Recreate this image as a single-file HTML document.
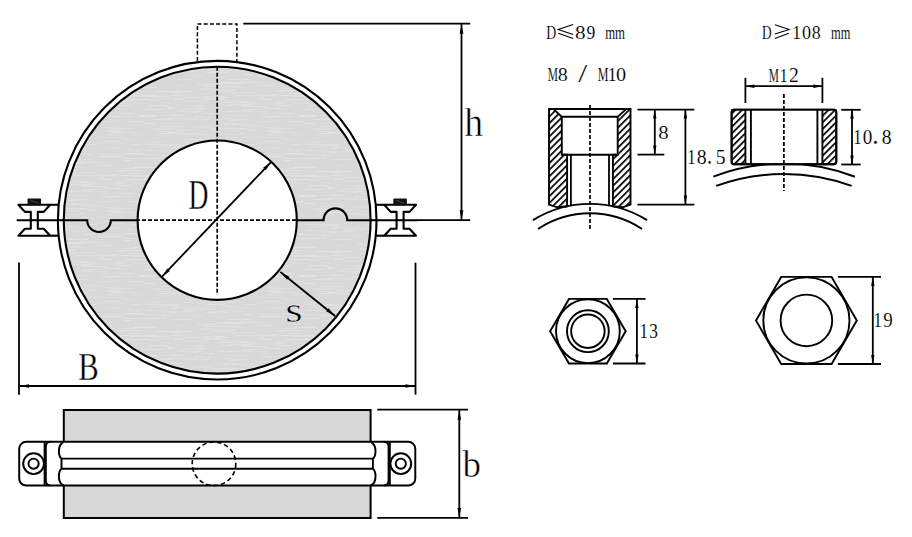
<!DOCTYPE html>
<html><head><meta charset="utf-8"><style>
html,body{margin:0;padding:0;background:#fff;width:912px;height:537px;overflow:hidden}
svg{display:block;font-family:"Liberation Serif",serif}
</style></head><body><svg width="912" height="537" viewBox="0 0 912 537"><defs><pattern id="brush" patternUnits="userSpaceOnUse" width="160" height="80"><rect width="160" height="80" fill="#d8d8d8"/><rect x="51.8" y="19.0" width="12.9" height="1" fill="#dedede"/><rect x="11.6" y="68.0" width="6.9" height="1" fill="#dedede"/><rect x="145.6" y="27.0" width="5.7" height="1" fill="#dcdcdc"/><rect x="66.9" y="30.0" width="6.8" height="1" fill="#dcdcdc"/><rect x="9.5" y="72.0" width="7.5" height="1" fill="#e0e0e0"/><rect x="100.9" y="74.0" width="24.0" height="1" fill="#dcdcdc"/><rect x="7.9" y="28.0" width="5.9" height="1" fill="#e0e0e0"/><rect x="46.3" y="18.0" width="15.8" height="1" fill="#e2e2e2"/><rect x="89.6" y="23.0" width="7.1" height="1" fill="#e0e0e0"/><rect x="59.6" y="70.0" width="19.2" height="1" fill="#dedede"/><rect x="99.0" y="63.0" width="18.6" height="1" fill="#dcdcdc"/><rect x="124.4" y="59.0" width="16.7" height="1" fill="#dcdcdc"/><rect x="57.9" y="31.0" width="20.9" height="1" fill="#e0e0e0"/><rect x="13.1" y="38.0" width="15.5" height="1" fill="#e2e2e2"/><rect x="116.7" y="36.0" width="17.2" height="1" fill="#dedede"/><rect x="18.9" y="53.0" width="8.3" height="1" fill="#e2e2e2"/><rect x="24.3" y="62.0" width="13.4" height="1" fill="#dedede"/><rect x="122.3" y="73.0" width="20.8" height="1" fill="#e2e2e2"/><rect x="54.4" y="44.0" width="16.9" height="1" fill="#dcdcdc"/><rect x="11.0" y="11.0" width="23.9" height="1" fill="#dcdcdc"/><rect x="111.5" y="8.0" width="6.2" height="1" fill="#e2e2e2"/><rect x="103.5" y="57.0" width="10.7" height="1" fill="#dcdcdc"/><rect x="141.9" y="44.0" width="5.5" height="1" fill="#dcdcdc"/><rect x="56.9" y="78.0" width="7.3" height="1" fill="#dedede"/><rect x="34.9" y="36.0" width="7.6" height="1" fill="#e0e0e0"/><rect x="63.7" y="63.0" width="6.6" height="1" fill="#dcdcdc"/><rect x="64.3" y="35.0" width="22.7" height="1" fill="#dcdcdc"/><rect x="138.2" y="35.0" width="19.1" height="1" fill="#e2e2e2"/><rect x="109.2" y="48.0" width="24.2" height="1" fill="#e0e0e0"/><rect x="13.3" y="19.0" width="9.6" height="1" fill="#e0e0e0"/><rect x="1.9" y="75.0" width="8.6" height="1" fill="#e2e2e2"/><rect x="0.7" y="53.0" width="15.7" height="1" fill="#e2e2e2"/><rect x="152.5" y="65.0" width="24.0" height="1" fill="#dedede"/><rect x="-7.5" y="65.0" width="24.0" height="1" fill="#dedede"/><rect x="73.1" y="71.0" width="12.8" height="1" fill="#dcdcdc"/><rect x="63.1" y="61.0" width="17.7" height="1" fill="#dedede"/><rect x="30.5" y="26.0" width="13.8" height="1" fill="#dedede"/><rect x="54.4" y="6.0" width="7.0" height="1" fill="#e0e0e0"/><rect x="85.9" y="46.0" width="17.3" height="1" fill="#dedede"/><rect x="139.9" y="78.0" width="12.5" height="1" fill="#e2e2e2"/><rect x="152.9" y="77.0" width="12.3" height="1" fill="#dedede"/><rect x="-7.1" y="77.0" width="12.3" height="1" fill="#dedede"/><rect x="18.5" y="62.0" width="24.9" height="1" fill="#dcdcdc"/><rect x="76.9" y="39.0" width="6.7" height="1" fill="#dedede"/><rect x="119.9" y="33.0" width="14.6" height="1" fill="#e0e0e0"/><rect x="82.6" y="26.0" width="24.0" height="1" fill="#e2e2e2"/><rect x="23.5" y="69.0" width="23.3" height="1" fill="#e2e2e2"/><rect x="156.6" y="11.0" width="18.9" height="1" fill="#e2e2e2"/><rect x="-3.4" y="11.0" width="18.9" height="1" fill="#e2e2e2"/><rect x="82.9" y="21.0" width="12.1" height="1" fill="#e0e0e0"/><rect x="85.2" y="64.0" width="11.6" height="1" fill="#e0e0e0"/><rect x="98.1" y="24.0" width="21.1" height="1" fill="#dcdcdc"/><rect x="118.4" y="29.0" width="9.0" height="1" fill="#dcdcdc"/><rect x="56.9" y="3.0" width="24.8" height="1" fill="#e2e2e2"/><rect x="75.6" y="24.0" width="18.9" height="1" fill="#e2e2e2"/><rect x="71.6" y="44.0" width="24.1" height="1" fill="#e2e2e2"/><rect x="12.9" y="13.0" width="9.5" height="1" fill="#e0e0e0"/><rect x="54.0" y="61.0" width="17.5" height="1" fill="#dedede"/><rect x="76.7" y="44.0" width="21.0" height="1" fill="#dedede"/><rect x="133.5" y="15.0" width="23.2" height="1" fill="#e0e0e0"/><rect x="76.5" y="22.0" width="13.7" height="1" fill="#e2e2e2"/><rect x="13.9" y="50.0" width="14.3" height="1" fill="#dedede"/><rect x="116.0" y="21.0" width="24.9" height="1" fill="#dedede"/><rect x="24.2" y="59.0" width="21.1" height="1" fill="#e0e0e0"/><rect x="97.9" y="76.0" width="24.6" height="1" fill="#e2e2e2"/><rect x="24.9" y="70.0" width="7.6" height="1" fill="#dedede"/><rect x="127.9" y="13.0" width="15.5" height="1" fill="#e0e0e0"/><rect x="69.4" y="24.0" width="21.5" height="1" fill="#e0e0e0"/><rect x="4.5" y="27.0" width="10.9" height="1" fill="#e0e0e0"/><rect x="122.2" y="41.0" width="10.2" height="1" fill="#dcdcdc"/><rect x="133.5" y="7.0" width="23.2" height="1" fill="#e2e2e2"/><rect x="143.6" y="74.0" width="21.3" height="1" fill="#dcdcdc"/><rect x="-16.4" y="74.0" width="21.3" height="1" fill="#dcdcdc"/><rect x="132.3" y="64.0" width="7.6" height="1" fill="#e0e0e0"/><rect x="83.8" y="2.0" width="22.5" height="1" fill="#e0e0e0"/><rect x="97.4" y="19.0" width="8.4" height="1" fill="#dcdcdc"/><rect x="99.1" y="15.0" width="16.1" height="1" fill="#e2e2e2"/><rect x="109.2" y="67.0" width="16.1" height="1" fill="#dedede"/><rect x="141.3" y="7.0" width="10.0" height="1" fill="#e2e2e2"/><rect x="6.8" y="12.0" width="15.2" height="1" fill="#dedede"/><rect x="121.6" y="8.0" width="13.9" height="1" fill="#e0e0e0"/><rect x="110.8" y="57.0" width="15.2" height="1" fill="#dcdcdc"/><rect x="81.2" y="31.0" width="19.0" height="1" fill="#e2e2e2"/><rect x="147.6" y="25.0" width="21.8" height="1" fill="#e0e0e0"/><rect x="-12.4" y="25.0" width="21.8" height="1" fill="#e0e0e0"/><rect x="66.7" y="50.0" width="13.8" height="1" fill="#dedede"/><rect x="107.4" y="54.0" width="6.5" height="1" fill="#e2e2e2"/><rect x="125.4" y="19.0" width="23.8" height="1" fill="#e2e2e2"/><rect x="22.9" y="17.0" width="24.4" height="1" fill="#e0e0e0"/><rect x="119.5" y="12.0" width="13.0" height="1" fill="#dcdcdc"/><rect x="26.0" y="28.0" width="8.2" height="1" fill="#dcdcdc"/><rect x="159.1" y="51.0" width="11.8" height="1" fill="#e0e0e0"/><rect x="-0.9" y="51.0" width="11.8" height="1" fill="#e0e0e0"/><rect x="57.1" y="11.0" width="19.4" height="1" fill="#dedede"/><rect x="54.1" y="58.0" width="13.8" height="1" fill="#dedede"/><rect x="61.5" y="66.0" width="17.5" height="1" fill="#dedede"/><rect x="18.1" y="29.0" width="24.4" height="1" fill="#dedede"/><rect x="13.4" y="34.0" width="5.8" height="1" fill="#e0e0e0"/><rect x="43.3" y="16.0" width="21.4" height="1" fill="#e2e2e2"/><rect x="65.0" y="68.0" width="23.4" height="1" fill="#dcdcdc"/><rect x="112.1" y="11.0" width="10.6" height="1" fill="#e0e0e0"/><rect x="68.1" y="9.0" width="10.4" height="1" fill="#dedede"/><rect x="101.5" y="33.0" width="6.7" height="1" fill="#e0e0e0"/><rect x="10.7" y="15.0" width="14.1" height="1" fill="#e2e2e2"/><rect x="159.1" y="53.0" width="23.5" height="1" fill="#e2e2e2"/><rect x="-0.9" y="53.0" width="23.5" height="1" fill="#e2e2e2"/><rect x="99.5" y="5.0" width="15.5" height="1" fill="#e0e0e0"/><rect x="150.1" y="20.0" width="10.2" height="1" fill="#e0e0e0"/><rect x="-9.9" y="20.0" width="10.2" height="1" fill="#e0e0e0"/><rect x="32.3" y="39.0" width="17.6" height="1" fill="#e0e0e0"/><rect x="46.4" y="64.0" width="18.4" height="1" fill="#e2e2e2"/><rect x="55.5" y="2.0" width="24.9" height="1" fill="#dedede"/><rect x="2.5" y="64.0" width="16.0" height="1" fill="#e0e0e0"/><rect x="82.3" y="31.0" width="23.7" height="1" fill="#dedede"/><rect x="105.3" y="55.0" width="18.1" height="1" fill="#dcdcdc"/><rect x="155.2" y="39.0" width="18.8" height="1" fill="#e0e0e0"/><rect x="-4.8" y="39.0" width="18.8" height="1" fill="#e0e0e0"/><rect x="54.8" y="17.0" width="13.1" height="1" fill="#e2e2e2"/><rect x="157.1" y="16.0" width="5.3" height="1" fill="#e2e2e2"/><rect x="-2.9" y="16.0" width="5.3" height="1" fill="#e2e2e2"/><rect x="68.9" y="7.0" width="6.7" height="1" fill="#dcdcdc"/><rect x="139.3" y="36.0" width="17.0" height="1" fill="#e2e2e2"/><rect x="7.2" y="23.0" width="8.2" height="1" fill="#dcdcdc"/><rect x="0.6" y="46.0" width="24.2" height="1" fill="#e2e2e2"/><rect x="39.1" y="39.0" width="9.4" height="1" fill="#e0e0e0"/><rect x="0.2" y="48.0" width="6.7" height="1" fill="#e2e2e2"/><rect x="80.4" y="25.0" width="10.0" height="1" fill="#dedede"/><rect x="14.5" y="11.0" width="7.9" height="1" fill="#dedede"/><rect x="63.0" y="38.0" width="11.1" height="1" fill="#e0e0e0"/><rect x="13.5" y="67.0" width="22.1" height="1" fill="#e0e0e0"/><rect x="105.2" y="76.0" width="12.8" height="1" fill="#e2e2e2"/><rect x="115.3" y="63.0" width="8.0" height="1" fill="#e0e0e0"/><rect x="7.0" y="65.0" width="17.5" height="1" fill="#e0e0e0"/><rect x="145.6" y="64.0" width="16.4" height="1" fill="#dedede"/><rect x="-14.4" y="64.0" width="16.4" height="1" fill="#dedede"/><rect x="132.2" y="74.0" width="21.0" height="1" fill="#e0e0e0"/><rect x="13.6" y="5.0" width="7.7" height="1" fill="#e2e2e2"/><rect x="153.5" y="48.0" width="21.7" height="1" fill="#dedede"/><rect x="-6.5" y="48.0" width="21.7" height="1" fill="#dedede"/><rect x="100.4" y="68.0" width="18.6" height="1" fill="#dcdcdc"/><rect x="42.2" y="58.0" width="21.0" height="1" fill="#dedede"/><rect x="105.5" y="8.0" width="19.9" height="1" fill="#dcdcdc"/><rect x="40.4" y="9.0" width="21.9" height="1" fill="#e0e0e0"/><rect x="116.7" y="26.0" width="9.6" height="1" fill="#dcdcdc"/><rect x="79.0" y="48.0" width="6.5" height="1" fill="#e2e2e2"/><rect x="122.7" y="78.0" width="17.7" height="1" fill="#e0e0e0"/><rect x="12.4" y="18.0" width="11.6" height="1" fill="#e2e2e2"/><rect x="99.4" y="17.0" width="5.2" height="1" fill="#dedede"/><rect x="77.7" y="12.0" width="18.8" height="1" fill="#dcdcdc"/><rect x="46.5" y="66.0" width="10.7" height="1" fill="#dcdcdc"/><rect x="74.6" y="15.0" width="24.9" height="1" fill="#e0e0e0"/><rect x="49.9" y="10.0" width="23.7" height="1" fill="#dedede"/><rect x="46.3" y="9.0" width="21.4" height="1" fill="#dcdcdc"/><rect x="159.0" y="49.0" width="9.2" height="1" fill="#e0e0e0"/><rect x="-1.0" y="49.0" width="9.2" height="1" fill="#e0e0e0"/><rect x="11.9" y="11.0" width="7.8" height="1" fill="#e2e2e2"/><rect x="152.4" y="16.0" width="17.1" height="1" fill="#e2e2e2"/><rect x="-7.6" y="16.0" width="17.1" height="1" fill="#e2e2e2"/><rect x="141.9" y="46.0" width="9.6" height="1" fill="#dcdcdc"/><rect x="63.1" y="20.0" width="5.1" height="1" fill="#dcdcdc"/><rect x="109.1" y="51.0" width="11.0" height="1" fill="#e0e0e0"/><rect x="66.6" y="48.0" width="11.3" height="1" fill="#e2e2e2"/><rect x="0.3" y="43.0" width="21.8" height="1" fill="#dedede"/><rect x="150.4" y="25.0" width="19.3" height="1" fill="#e2e2e2"/><rect x="-9.6" y="25.0" width="19.3" height="1" fill="#e2e2e2"/><rect x="40.5" y="8.0" width="12.9" height="1" fill="#dedede"/><rect x="57.7" y="54.0" width="20.1" height="1" fill="#dedede"/><rect x="44.9" y="6.0" width="21.7" height="1" fill="#e2e2e2"/><rect x="101.6" y="19.0" width="10.0" height="1" fill="#e2e2e2"/><rect x="69.8" y="40.0" width="8.8" height="1" fill="#e2e2e2"/><rect x="125.6" y="54.0" width="22.7" height="1" fill="#dcdcdc"/><rect x="146.1" y="70.0" width="16.0" height="1" fill="#dedede"/><rect x="-13.9" y="70.0" width="16.0" height="1" fill="#dedede"/><rect x="7.9" y="52.0" width="14.0" height="1" fill="#e0e0e0"/><rect x="103.1" y="36.0" width="14.7" height="1" fill="#e0e0e0"/><rect x="27.3" y="53.0" width="11.9" height="1" fill="#e2e2e2"/><rect x="40.9" y="33.0" width="13.1" height="1" fill="#e0e0e0"/><rect x="48.1" y="71.0" width="18.4" height="1" fill="#dedede"/><rect x="26.8" y="20.0" width="6.5" height="1" fill="#dcdcdc"/><rect x="88.1" y="57.0" width="23.1" height="1" fill="#dcdcdc"/><rect x="68.4" y="70.0" width="8.8" height="1" fill="#dedede"/><rect x="28.0" y="71.0" width="6.8" height="1" fill="#e0e0e0"/><rect x="58.9" y="72.0" width="9.0" height="1" fill="#dedede"/><rect x="119.9" y="52.0" width="12.7" height="1" fill="#e0e0e0"/><rect x="60.3" y="43.0" width="20.0" height="1" fill="#dcdcdc"/><rect x="44.4" y="46.0" width="7.5" height="1" fill="#e0e0e0"/><rect x="14.8" y="31.0" width="12.7" height="1" fill="#dcdcdc"/><rect x="69.1" y="39.0" width="22.0" height="1" fill="#dedede"/><rect x="20.4" y="54.0" width="19.2" height="1" fill="#dcdcdc"/><rect x="154.9" y="62.0" width="5.0" height="1" fill="#dcdcdc"/><rect x="148.8" y="67.0" width="22.1" height="1" fill="#dcdcdc"/><rect x="-11.2" y="67.0" width="22.1" height="1" fill="#dcdcdc"/><rect x="39.8" y="13.0" width="9.5" height="1" fill="#e0e0e0"/><rect x="83.6" y="13.0" width="23.8" height="1" fill="#dcdcdc"/><rect x="13.6" y="5.0" width="5.0" height="1" fill="#e0e0e0"/><rect x="37.2" y="4.0" width="17.9" height="1" fill="#e2e2e2"/><rect x="154.0" y="32.0" width="15.6" height="1" fill="#dcdcdc"/><rect x="-6.0" y="32.0" width="15.6" height="1" fill="#dcdcdc"/><rect x="111.8" y="14.0" width="7.0" height="1" fill="#e2e2e2"/><rect x="83.9" y="74.0" width="8.8" height="1" fill="#e2e2e2"/><rect x="35.8" y="76.0" width="5.0" height="1" fill="#e2e2e2"/><rect x="159.4" y="35.0" width="24.2" height="1" fill="#e0e0e0"/><rect x="-0.6" y="35.0" width="24.2" height="1" fill="#e0e0e0"/><rect x="76.0" y="30.0" width="15.9" height="1" fill="#dedede"/><rect x="153.7" y="39.0" width="6.1" height="1" fill="#e0e0e0"/><rect x="79.7" y="53.0" width="6.6" height="1" fill="#e0e0e0"/><rect x="106.8" y="47.0" width="9.5" height="1" fill="#dedede"/><rect x="111.3" y="53.0" width="12.2" height="1" fill="#dcdcdc"/><rect x="31.7" y="37.0" width="19.8" height="1" fill="#dedede"/><rect x="32.8" y="25.0" width="11.2" height="1" fill="#e0e0e0"/><rect x="36.9" y="28.0" width="10.3" height="1" fill="#e2e2e2"/><rect x="17.4" y="79.0" width="14.9" height="1" fill="#e0e0e0"/><rect x="143.4" y="62.0" width="13.3" height="1" fill="#dedede"/><rect x="151.8" y="18.0" width="23.4" height="1" fill="#dedede"/><rect x="-8.2" y="18.0" width="23.4" height="1" fill="#dedede"/><rect x="34.1" y="76.0" width="7.8" height="1" fill="#dedede"/><rect x="113.6" y="23.0" width="12.9" height="1" fill="#e2e2e2"/><rect x="117.2" y="10.0" width="23.6" height="1" fill="#e2e2e2"/><rect x="30.5" y="67.0" width="19.9" height="1" fill="#dedede"/><rect x="49.9" y="48.0" width="21.8" height="1" fill="#e2e2e2"/><rect x="70.8" y="13.0" width="5.1" height="1" fill="#e2e2e2"/><rect x="12.9" y="53.0" width="24.1" height="1" fill="#dedede"/><rect x="89.8" y="26.0" width="12.6" height="1" fill="#e2e2e2"/><rect x="131.5" y="55.0" width="6.8" height="1" fill="#dcdcdc"/><rect x="31.3" y="69.0" width="23.4" height="1" fill="#e0e0e0"/><rect x="51.7" y="60.0" width="5.6" height="1" fill="#dcdcdc"/><rect x="39.7" y="51.0" width="5.8" height="1" fill="#dedede"/><rect x="74.2" y="7.0" width="10.1" height="1" fill="#dedede"/><rect x="143.8" y="43.0" width="12.3" height="1" fill="#e2e2e2"/><rect x="153.2" y="78.0" width="5.9" height="1" fill="#e2e2e2"/><rect x="147.9" y="38.0" width="5.1" height="1" fill="#dedede"/><rect x="3.9" y="29.0" width="7.1" height="1" fill="#dcdcdc"/><rect x="152.6" y="49.0" width="20.8" height="1" fill="#dcdcdc"/><rect x="-7.4" y="49.0" width="20.8" height="1" fill="#dcdcdc"/><rect x="130.4" y="16.0" width="23.6" height="1" fill="#e0e0e0"/><rect x="1.4" y="38.0" width="21.5" height="1" fill="#e0e0e0"/><rect x="97.2" y="41.0" width="22.2" height="1" fill="#dcdcdc"/><rect x="57.9" y="76.0" width="6.6" height="1" fill="#e0e0e0"/><rect x="62.7" y="20.0" width="9.9" height="1" fill="#dedede"/><rect x="103.9" y="61.0" width="16.1" height="1" fill="#e2e2e2"/><rect x="25.7" y="54.0" width="22.7" height="1" fill="#dedede"/><rect x="42.4" y="10.0" width="9.2" height="1" fill="#dcdcdc"/><rect x="79.8" y="57.0" width="8.5" height="1" fill="#e0e0e0"/><rect x="66.7" y="79.0" width="22.8" height="1" fill="#e0e0e0"/><rect x="119.7" y="15.0" width="20.6" height="1" fill="#e2e2e2"/><rect x="47.0" y="72.0" width="10.4" height="1" fill="#e2e2e2"/><rect x="118.1" y="25.0" width="13.8" height="1" fill="#e0e0e0"/><rect x="39.3" y="19.0" width="10.6" height="1" fill="#e0e0e0"/><rect x="52.2" y="50.0" width="10.0" height="1" fill="#e0e0e0"/><rect x="81.2" y="29.0" width="18.0" height="1" fill="#dedede"/><rect x="104.5" y="4.0" width="7.0" height="1" fill="#dcdcdc"/><rect x="141.3" y="29.0" width="21.8" height="1" fill="#e2e2e2"/><rect x="-18.7" y="29.0" width="21.8" height="1" fill="#e2e2e2"/><rect x="6.5" y="37.0" width="9.7" height="1" fill="#dedede"/><rect x="30.3" y="74.0" width="8.9" height="1" fill="#dedede"/><rect x="59.6" y="22.0" width="14.0" height="1" fill="#e2e2e2"/><rect x="124.0" y="0.0" width="7.1" height="1" fill="#e2e2e2"/><rect x="34.8" y="47.0" width="11.8" height="1" fill="#dedede"/><rect x="32.6" y="32.0" width="5.8" height="1" fill="#e0e0e0"/><rect x="130.4" y="41.0" width="13.2" height="1" fill="#e2e2e2"/><rect x="29.6" y="39.0" width="6.6" height="1" fill="#dedede"/><rect x="127.2" y="70.0" width="14.7" height="1" fill="#dcdcdc"/><rect x="16.2" y="50.0" width="18.3" height="1" fill="#e0e0e0"/><rect x="102.3" y="11.0" width="18.1" height="1" fill="#dcdcdc"/><rect x="111.3" y="52.0" width="24.8" height="1" fill="#e2e2e2"/><rect x="66.9" y="6.0" width="11.2" height="1" fill="#e2e2e2"/><rect x="66.3" y="2.0" width="22.3" height="1" fill="#e2e2e2"/><rect x="103.1" y="50.0" width="19.6" height="1" fill="#e0e0e0"/><rect x="150.7" y="55.0" width="23.0" height="1" fill="#dcdcdc"/><rect x="-9.3" y="55.0" width="23.0" height="1" fill="#dcdcdc"/><rect x="18.2" y="11.0" width="13.1" height="1" fill="#e2e2e2"/><rect x="73.7" y="20.0" width="7.6" height="1" fill="#dedede"/><rect x="88.2" y="50.0" width="6.8" height="1" fill="#e2e2e2"/><rect x="118.0" y="21.0" width="7.9" height="1" fill="#e2e2e2"/><rect x="25.9" y="21.0" width="23.5" height="1" fill="#dedede"/><rect x="61.4" y="25.0" width="11.0" height="1" fill="#dedede"/><rect x="156.1" y="61.0" width="11.3" height="1" fill="#dcdcdc"/><rect x="-3.9" y="61.0" width="11.3" height="1" fill="#dcdcdc"/><rect x="13.8" y="79.0" width="18.8" height="1" fill="#e0e0e0"/><rect x="102.5" y="28.0" width="17.4" height="1" fill="#e0e0e0"/><rect x="132.7" y="23.0" width="16.3" height="1" fill="#dedede"/><rect x="64.0" y="66.0" width="8.1" height="1" fill="#e2e2e2"/><rect x="19.7" y="31.0" width="24.4" height="1" fill="#e0e0e0"/><rect x="6.6" y="71.0" width="21.8" height="1" fill="#dedede"/></pattern></defs><path d="M197.4 61V23.9H236.9V61" fill="none" stroke="#000" stroke-width="1.5" stroke-dasharray="4 2.2"/><line x1="243.3" y1="23.7" x2="470.2" y2="23.7" stroke="#000" stroke-width="1.8" /><line x1="19" y1="262.6" x2="19" y2="394.7" stroke="#000" stroke-width="1.8" /><line x1="415.5" y1="262.6" x2="415.5" y2="394.7" stroke="#000" stroke-width="1.8" /><line x1="19" y1="386" x2="415.5" y2="386" stroke="#000" stroke-width="1.8"/><path d="M415.5 386L405.5 387.8L405.5 384.2Z" fill="#000"/><path d="M19 386L29 384.2L29 387.8Z" fill="#000"/><line x1="461.5" y1="23.7" x2="461.5" y2="220.2" stroke="#000" stroke-width="1.8"/><path d="M461.5 220.2L459.7 210.2L463.3 210.2Z" fill="#000"/><path d="M461.5 23.7L463.3 33.7L459.7 33.7Z" fill="#000"/><line x1="16.7" y1="220.2" x2="64" y2="220.2" stroke="#000" stroke-width="2.1" /><line x1="370" y1="220.2" x2="417.7" y2="220.2" stroke="#000" stroke-width="2.1" /><line x1="417" y1="220.2" x2="470.2" y2="220.2" stroke="#000" stroke-width="1.8" /><line x1="50.2" y1="204.8" x2="62" y2="204.8" stroke="#000" stroke-width="2.1" /><line x1="50.2" y1="235.7" x2="62" y2="235.7" stroke="#000" stroke-width="2.1" /><line x1="384.2" y1="204.8" x2="372" y2="204.8" stroke="#000" stroke-width="2.1" /><line x1="384.2" y1="235.7" x2="372" y2="235.7" stroke="#000" stroke-width="2.1" /><path d="M18.4 204.8L50.2 204.8L43.7 211.9L37.8 211.9L37.8 228.7L43.7 228.7L50.2 235.7L18.4 235.7L24.9 228.7L30.8 228.7L30.8 211.9L24.9 211.9Z" fill="#fff" stroke="#000" stroke-width="2.1" stroke-linejoin="round"/><rect x="27.5" y="198.4" width="13.6" height="6.8" rx="1" fill="#111"/><line x1="30.3" y1="200.3" x2="38.3" y2="203.2" stroke="#666" stroke-width="0.6"/><line x1="30.7" y1="220.2" x2="37.9" y2="220.2" stroke="#000" stroke-width="2.1" /><path d="M384.2 204.8L416 204.8L409.5 211.9L403.6 211.9L403.6 228.7L409.5 228.7L416 235.7L384.2 235.7L390.7 228.7L396.6 228.7L396.6 211.9L390.7 211.9Z" fill="#fff" stroke="#000" stroke-width="2.1" stroke-linejoin="round"/><rect x="393.3" y="198.4" width="13.6" height="6.8" rx="1" fill="#111"/><line x1="396.1" y1="200.3" x2="404.1" y2="203.2" stroke="#666" stroke-width="0.6"/><line x1="396.5" y1="220.2" x2="403.7" y2="220.2" stroke="#000" stroke-width="2.1" /><circle cx="217.2" cy="220.2" r="159.3" fill="#fff" stroke="#000" stroke-width="2.1"/><path d="M63.8 220.2A153.4 153.4 0 1 0 370.6 220.2A153.4 153.4 0 1 0 63.8 220.2ZM137.6 220.2A79.6 79.6 0 1 0 296.8 220.2A79.6 79.6 0 1 0 137.6 220.2Z" fill="url(#brush)" fill-rule="evenodd" stroke="#000" stroke-width="2.1"/><line x1="57.9" y1="220.2" x2="63.8" y2="220.2" stroke="#000" stroke-width="2.1" /><line x1="370.6" y1="220.2" x2="376.5" y2="220.2" stroke="#000" stroke-width="2.1" /><path d="M63.8 220.2L87.2 220.2A11.8 11.8 0 0 0 110.8 220.2L137.6 220.2" fill="none" stroke="#000" stroke-width="2.1"/><path d="M296.8 220.2L323.6 220.2A11.8 11.8 0 0 1 347.2 220.2L370.6 220.2" fill="none" stroke="#000" stroke-width="2.1"/><line x1="136" y1="220.2" x2="296.8" y2="220.2" stroke="#000" stroke-width="1.7" stroke-dasharray="4 2"/><line x1="217.2" y1="66.8" x2="217.2" y2="295" stroke="#000" stroke-width="1.7" stroke-dasharray="4 2"/><line x1="271.3" y1="161.8" x2="161.7" y2="276.9" stroke="#000" stroke-width="1.8"/><path d="M161.7 276.9L167.29 268.42L169.9 270.9Z" fill="#000"/><path d="M271.3 161.8L265.71 170.28L263.1 167.8Z" fill="#000"/><line x1="280.4" y1="272" x2="335.1" y2="316" stroke="#000" stroke-width="1.8"/><path d="M335.1 316L326.18 311.13L328.44 308.33Z" fill="#000"/><path d="M280.4 272L289.32 276.87L287.06 279.67Z" fill="#000"/><rect x="63.8" y="410" width="306.8" height="108" fill="#d8d8d8" stroke="#000" stroke-width="2.0"/><line x1="377.3" y1="409.7" x2="468" y2="409.7" stroke="#000" stroke-width="1.8" /><line x1="377.3" y1="517.9" x2="468" y2="517.9" stroke="#000" stroke-width="1.8" /><line x1="459.3" y1="409.7" x2="459.3" y2="517.9" stroke="#000" stroke-width="1.8"/><path d="M459.3 517.9L457.5 507.9L461.1 507.9Z" fill="#000"/><path d="M459.3 409.7L461.1 419.7L457.5 419.7Z" fill="#000"/><path d="M26.2 441.8H408.3A7 7 0 0 1 415.3 448.8V478.5A7 7 0 0 1 408.3 485.5H26.2A7 7 0 0 1 19.2 478.5V448.8A7 7 0 0 1 26.2 441.8Z" fill="#fff" stroke="#000" stroke-width="1.95"/><line x1="44.6" y1="441.8" x2="44.6" y2="485.5" stroke="#000" stroke-width="1.95" /><path d="M50.5 441.8Q45.8 441.8 45.8 447V480.3Q45.8 485.5 50.5 485.5" fill="none" stroke="#000" stroke-width="1.95"/><path d="M63.5 441.8C60.3 443.6 58.9 447.5 58.9 451C58.9 454.5 60 457.6 61.5 458.6V468.8C60 469.8 58.9 473 58.9 476.5C58.9 480 60.3 483.8 63.5 485.5" fill="none" stroke="#000" stroke-width="1.95"/><circle cx="33.6" cy="463.7" r="10.4" fill="none" stroke="#000" stroke-width="1.95"/><circle cx="33.6" cy="463.7" r="5.1" fill="none" stroke="#000" stroke-width="1.95"/><line x1="389.8" y1="441.8" x2="389.8" y2="485.5" stroke="#000" stroke-width="1.95" /><path d="M383.9 441.8Q388.6 441.8 388.6 447V480.3Q388.6 485.5 383.9 485.5" fill="none" stroke="#000" stroke-width="1.95"/><path d="M370.9 441.8C374.1 443.6 375.5 447.5 375.5 451C375.5 454.5 374.4 457.6 372.9 458.6V468.8C374.4 469.8 375.5 473 375.5 476.5C375.5 480 374.1 483.8 370.9 485.5" fill="none" stroke="#000" stroke-width="1.95"/><circle cx="400.8" cy="463.7" r="10.4" fill="none" stroke="#000" stroke-width="1.95"/><circle cx="400.8" cy="463.7" r="5.1" fill="none" stroke="#000" stroke-width="1.95"/><line x1="61.6" y1="458.6" x2="372.8" y2="458.6" stroke="#000" stroke-width="1.95" /><line x1="61.6" y1="468.8" x2="372.8" y2="468.8" stroke="#000" stroke-width="1.95" /><circle cx="214" cy="463.8" r="21.8" fill="none" stroke="#000" stroke-width="1.6" stroke-dasharray="4.5 3"/><defs><pattern id="hat" patternUnits="userSpaceOnUse" width="4.7" height="4.7" patternTransform="rotate(45)"><rect x="0" y="0" width="1.7" height="4.7" fill="#000"/></pattern></defs><path d="M533 220.17A108 108 0 0 1 647 220.17" fill="none" stroke="#000" stroke-width="1.9"/><path d="M538 228.99A94 94 0 0 1 642 228.99" fill="none" stroke="#000" stroke-width="1.9"/><path d="M549 109H553.4L561.8 116.8V154.7H567.1V206.3L557.4 207.3L549 204.6Z" fill="url(#hat)" stroke="#000" stroke-width="1.9"/><path d="M630.5 109H626.2L617.7 116.8V154.7H612.9V206.3L622.6 207.3L630.5 204.6Z" fill="url(#hat)" stroke="#000" stroke-width="1.9"/><line x1="549" y1="109" x2="630.5" y2="109" stroke="#000" stroke-width="2.1" /><line x1="561.8" y1="116.8" x2="617.7" y2="116.8" stroke="#000" stroke-width="1.9" /><line x1="561.8" y1="154.7" x2="617.7" y2="154.7" stroke="#000" stroke-width="1.9" /><line x1="570.9" y1="154.7" x2="570.9" y2="206" stroke="#000" stroke-width="1.8" /><line x1="609" y1="154.7" x2="609" y2="206" stroke="#000" stroke-width="1.8" /><line x1="590" y1="105" x2="590" y2="230" stroke="#000" stroke-width="1.7" stroke-dasharray="4 2"/><line x1="637.5" y1="109.6" x2="694.3" y2="109.6" stroke="#000" stroke-width="1.8" /><line x1="637.5" y1="154.6" x2="664.3" y2="154.6" stroke="#000" stroke-width="1.8" /><line x1="637.5" y1="204.6" x2="694.3" y2="204.6" stroke="#000" stroke-width="1.8" /><line x1="654.8" y1="109.6" x2="654.8" y2="154.6" stroke="#000" stroke-width="1.8"/><path d="M654.8 154.6L653.1 145.6L656.5 145.6Z" fill="#000"/><path d="M654.8 109.6L656.5 118.6L653.1 118.6Z" fill="#000"/><line x1="685.4" y1="109.6" x2="685.4" y2="204.6" stroke="#000" stroke-width="1.8"/><path d="M685.4 204.6L683.7 195.6L687.1 195.6Z" fill="#000"/><path d="M685.4 109.6L687.1 118.6L683.7 118.6Z" fill="#000"/><path d="M713.4 176.55A197 197 0 0 1 854.9 176.74" fill="none" stroke="#000" stroke-width="1.9"/><path d="M716.2 185.9A198.5 198.5 0 0 1 851.6 185.9" fill="none" stroke="#000" stroke-width="1.9"/><rect x="731.6" y="109.6" width="104.7" height="54.7" rx="2.5" fill="#fff" stroke="#000" stroke-width="1.9"/><rect x="731.6" y="109.6" width="13.8" height="54.7" fill="url(#hat)" stroke="none"/><rect x="822.4" y="109.6" width="13.9" height="54.7" fill="url(#hat)" stroke="none"/><rect x="731.6" y="109.6" width="104.7" height="54.7" rx="2.5" fill="none" stroke="#000" stroke-width="1.9"/><line x1="745.4" y1="109.6" x2="745.4" y2="164.3" stroke="#000" stroke-width="1.9" /><line x1="750.9" y1="109.6" x2="750.9" y2="164.3" stroke="#000" stroke-width="1.9" /><line x1="817.4" y1="109.6" x2="817.4" y2="164.3" stroke="#000" stroke-width="1.9" /><line x1="822.4" y1="109.6" x2="822.4" y2="164.3" stroke="#000" stroke-width="1.9" /><line x1="783.9" y1="93.9" x2="783.9" y2="191" stroke="#000" stroke-width="1.7" stroke-dasharray="4 2"/><line x1="745.4" y1="77.8" x2="745.4" y2="103" stroke="#000" stroke-width="1.8" /><line x1="822.4" y1="77.8" x2="822.4" y2="103" stroke="#000" stroke-width="1.8" /><line x1="745.4" y1="86.2" x2="822.4" y2="86.2" stroke="#000" stroke-width="1.8"/><path d="M822.4 86.2L813.4 87.9L813.4 84.5Z" fill="#000"/><path d="M745.4 86.2L754.4 84.5L754.4 87.9Z" fill="#000"/><line x1="841.2" y1="109.8" x2="860.7" y2="109.8" stroke="#000" stroke-width="1.8" /><line x1="841.2" y1="164.5" x2="860.7" y2="164.5" stroke="#000" stroke-width="1.8" /><line x1="852" y1="109.8" x2="852" y2="164.5" stroke="#000" stroke-width="1.8"/><path d="M852 164.5L850.3 155.5L853.7 155.5Z" fill="#000"/><path d="M852 109.8L853.7 118.8L850.3 118.8Z" fill="#000"/><polygon points="625.7,331.2 606.8,363.5 569,363.5 550.1,331.2 569,298.9 606.8,298.9" fill="none" stroke="#000" stroke-width="1.9"/><circle cx="587.9" cy="331.2" r="31.9" fill="none" stroke="#000" stroke-width="1.9"/><circle cx="587.9" cy="331.2" r="20.9" fill="none" stroke="#000" stroke-width="1.9"/><circle cx="587.9" cy="331.2" r="16.75" fill="none" stroke="#000" stroke-width="1.9"/><line x1="612.9" y1="298.9" x2="645.5" y2="298.9" stroke="#000" stroke-width="1.8" /><line x1="612.9" y1="363.5" x2="645.5" y2="363.5" stroke="#000" stroke-width="1.8" /><line x1="636.9" y1="298.9" x2="636.9" y2="363.5" stroke="#000" stroke-width="1.8"/><path d="M636.9 363.5L635.2 354.5L638.6 354.5Z" fill="#000"/><path d="M636.9 298.9L638.6 307.9L635.2 307.9Z" fill="#000"/><polygon points="856.8,320.45 831.6,364 781.2,364 756,320.45 781.2,276.9 831.6,276.9" fill="none" stroke="#000" stroke-width="1.9"/><circle cx="806.4" cy="320.45" r="43.1" fill="none" stroke="#000" stroke-width="1.9"/><circle cx="806.4" cy="320.45" r="25.8" fill="none" stroke="#000" stroke-width="1.9"/><line x1="837.9" y1="276.9" x2="881" y2="276.9" stroke="#000" stroke-width="1.8" /><line x1="837.9" y1="364" x2="881" y2="364" stroke="#000" stroke-width="1.8" /><line x1="872.8" y1="276.9" x2="872.8" y2="364" stroke="#000" stroke-width="1.8"/><path d="M872.8 364L871.1 355L874.5 355Z" fill="#000"/><path d="M872.8 276.9L874.5 285.9L871.1 285.9Z" fill="#000"/><g fill="#000"><text font-family="Liberation Serif" font-size="41.57" transform="translate(188.51 208.82) scale(0.6628 1)" stroke="#fff" stroke-width="0.35">D</text><text font-family="Liberation Serif" font-size="40.44" transform="translate(78.32 379.68) scale(0.7594 1)" stroke="#fff" stroke-width="0.35">B</text><text font-family="Liberation Serif" font-size="39.2" transform="translate(464.33 135.6) scale(0.9625 1)" stroke="#fff" stroke-width="0.5">h</text><text font-family="Liberation Serif" font-size="38.66" transform="translate(462.4 477.22) scale(0.9576 1)" stroke="#fff" stroke-width="0.5">b</text><text font-family="Liberation Serif" font-size="36.39" transform="translate(285.17 322.34) scale(1.2244 1)" stroke="#fff" stroke-width="0.4">s</text><text font-family="Liberation Serif" font-size="19.03" transform="translate(546.2 38.56) scale(0.7238 1)" stroke="#fff" stroke-width="0.12">D</text><path d="M573.2 24.5L558.1 29.4L573.2 34.5M558.3 33.3L573.2 38.4" fill="none" stroke="#000" stroke-width="1.05"/><text font-family="Liberation Serif" font-size="19.12" transform="translate(574.89 38.61) scale(1.1108 1)" stroke="#fff" stroke-width="0.12">8</text><text font-family="Liberation Serif" font-size="19.2" transform="translate(586.53 38.61) scale(0.9153 1)" stroke="#fff" stroke-width="0.12">9</text><text font-family="Liberation Serif" font-size="18.04" transform="translate(605.13 38.6) scale(0.7105 1)" stroke="#fff" stroke-width="0.12">m</text><text font-family="Liberation Serif" font-size="18.04" transform="translate(614.93 38.6) scale(0.7105 1)" stroke="#fff" stroke-width="0.12">m</text><text font-family="Liberation Serif" font-size="19.55" transform="translate(547.67 80.7) scale(0.5848 1)" stroke="#fff" stroke-width="0.12">M</text><text font-family="Liberation Serif" font-size="19.56" transform="translate(557.64 80.71) scale(1.0253 1)" stroke="#fff" stroke-width="0.12">8</text><text font-family="Liberation Serif" font-size="24.82" transform="translate(578.2 82.36) scale(1.3054 1)" stroke="#fff" stroke-width="0.12">/</text><text font-family="Liberation Serif" font-size="19.55" transform="translate(597.65 80.7) scale(0.6155 1)" stroke="#fff" stroke-width="0.12">M</text><text font-family="Liberation Serif" font-size="19.39" transform="translate(607.75 80.7) scale(0.9083 1)" stroke="#fff" stroke-width="0.12">1</text><text font-family="Liberation Serif" font-size="19.56" transform="translate(616.03 80.71) scale(1.0373 1)" stroke="#fff" stroke-width="0.12">0</text><text font-family="Liberation Serif" font-size="19.03" transform="translate(762.12 38.56) scale(0.6996 1)" stroke="#fff" stroke-width="0.12">D</text><path d="M774.9 24.7L789.25 29.4L774.9 34.1M788.8 33.3L774.9 38.4" fill="none" stroke="#000" stroke-width="1.05"/><text font-family="Liberation Serif" font-size="18.93" transform="translate(792.08 38.6) scale(0.9751 1)" stroke="#fff" stroke-width="0.12">1</text><text font-family="Liberation Serif" font-size="19.12" transform="translate(802.11 38.61) scale(0.9504 1)" stroke="#fff" stroke-width="0.12">0</text><text font-family="Liberation Serif" font-size="19.12" transform="translate(811.82 38.61) scale(0.9380 1)" stroke="#fff" stroke-width="0.12">8</text><text font-family="Liberation Serif" font-size="18.04" transform="translate(831.04 38.6) scale(0.6955 1)" stroke="#fff" stroke-width="0.12">m</text><text font-family="Liberation Serif" font-size="18.04" transform="translate(840.74 38.6) scale(0.6881 1)" stroke="#fff" stroke-width="0.12">m</text><text font-family="Liberation Serif" font-size="19.85" transform="translate(768.67 81.6) scale(0.5758 1)" stroke="#fff" stroke-width="0.12">M</text><text font-family="Liberation Serif" font-size="19.69" transform="translate(779.73 81.6) scale(0.7933 1)" stroke="#fff" stroke-width="0.12">1</text><text font-family="Liberation Serif" font-size="19.94" transform="translate(789.03 81.6) scale(0.9885 1)" stroke="#fff" stroke-width="0.12">2</text><text font-family="Liberation Serif" font-size="19.56" transform="translate(658.31 138.61) scale(1.0614 1)" stroke="#fff" stroke-width="0.12">8</text><text font-family="Liberation Serif" font-size="20" transform="translate(687.23 163.7) scale(0.8381 1)" stroke="#fff" stroke-width="0.12">1</text><text font-family="Liberation Serif" font-size="20.15" transform="translate(696.85 163.7) scale(0.9834 1)" stroke="#fff" stroke-width="0.12">8</text><text font-family="Liberation Serif" font-size="27.08" transform="translate(707.06 163.52) scale(0.7500 1)" stroke="#fff" stroke-width="0.12">.</text><text font-family="Liberation Serif" font-size="20.16" transform="translate(715.86 163.7) scale(0.9726 1)" stroke="#fff" stroke-width="0.12">5</text><text font-family="Liberation Serif" font-size="20.3" transform="translate(853.33 143.9) scale(0.8256 1)" stroke="#fff" stroke-width="0.12">1</text><text font-family="Liberation Serif" font-size="20.45" transform="translate(862.77 143.9) scale(0.9345 1)" stroke="#fff" stroke-width="0.12">0</text><text font-family="Liberation Serif" font-size="27.08" transform="translate(872.23 143.72) scale(0.9375 1)" stroke="#fff" stroke-width="0.12">.</text><text font-family="Liberation Serif" font-size="20.45" transform="translate(881.85 143.9) scale(0.9576 1)" stroke="#fff" stroke-width="0.12">8</text><text font-family="Liberation Serif" font-size="20.15" transform="translate(639.4 337.6) scale(0.8459 1)" stroke="#fff" stroke-width="0.12">1</text><text font-family="Liberation Serif" font-size="20.39" transform="translate(649.04 337.6) scale(0.8785 1)" stroke="#fff" stroke-width="0.12">3</text><text font-family="Liberation Serif" font-size="20" transform="translate(873.43 326.8) scale(0.8381 1)" stroke="#fff" stroke-width="0.12">1</text><text font-family="Liberation Serif" font-size="20.24" transform="translate(883.19 326.8) scale(0.9377 1)" stroke="#fff" stroke-width="0.12">9</text></g></svg></body></html>
